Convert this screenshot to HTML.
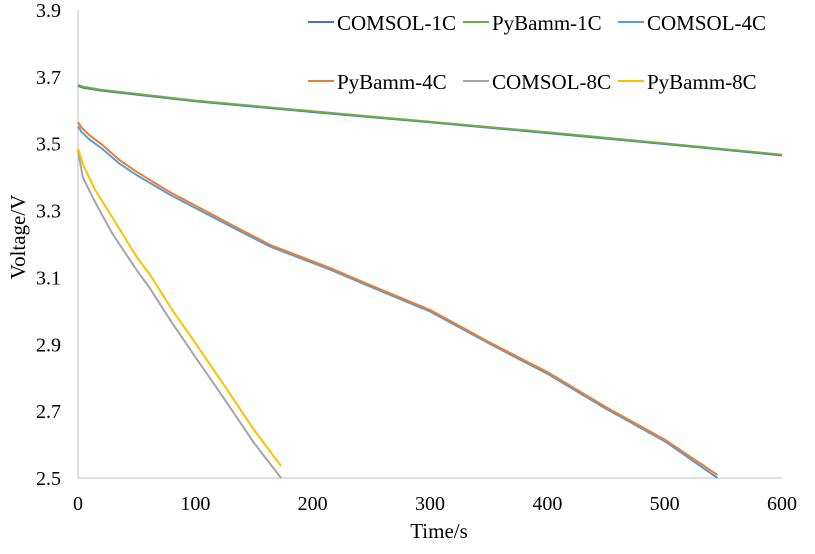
<!DOCTYPE html>
<html><head><meta charset="utf-8"><style>
body{margin:0;background:#fff;}
svg text{font-family:"Liberation Serif",serif;fill:#000;}
</style></head><body>
<svg id="chart" width="815" height="549" xmlns="http://www.w3.org/2000/svg"></svg>
<script>
const xTicks=[0,100,200,300,400,500,600];
const yTicks=[2.5,2.7,2.9,3.1,3.3,3.5,3.7,3.9];
const seriesNames=["COMSOL-1C","PyBamm-1C","COMSOL-4C","PyBamm-4C","COMSOL-8C","PyBamm-8C"];
const seriesColors=["#4472c4","#70ad47","#5b9bd5","#ed7d31","#a5a5a5","#ffc000"];
const t1=[0,5,20,50,100,200,300,400,500,600];
const c1=[3.673,3.667,3.659,3.647,3.627,3.595,3.564,3.532,3.499,3.465];
const p1=[3.676,3.670,3.661,3.649,3.629,3.597,3.566,3.534,3.501,3.467];
const t4=[0,3,10,21,35,50,78,107,136,164,215,250,300,350,400,450,500,545];
const c4=[3.552,3.535,3.512,3.484,3.441,3.406,3.348,3.295,3.242,3.192,3.123,3.071,2.998,2.903,2.812,2.707,2.610,2.500];
const p4=[3.565,3.548,3.525,3.496,3.452,3.416,3.356,3.302,3.248,3.197,3.128,3.076,3.003,2.907,2.817,2.712,2.615,2.509];
const t8=[0,4,14.5,29,50,61,80,100,125,150,173];
const c8=[3.480,3.400,3.326,3.233,3.122,3.069,2.965,2.862,2.735,2.605,2.500];
const p8=[3.487,3.440,3.362,3.281,3.161,3.110,3.004,2.904,2.775,2.644,2.536];
const series=[[t1,c1],[t1,p1],[t4,c4],[t4,p4],[t8,c8],[t8,p8]];
const L=78,R=782,T=10,B=478;
const X=v=>L+(v-0)/600*(R-L);
const Y=v=>B-(v-2.5)/1.4*(B-T);
const svg=document.getElementById('chart');
const NS="http://www.w3.org/2000/svg";
function mk(tag,attrs,parent){const e=document.createElementNS(NS,tag);for(const k in attrs)e.setAttribute(k,attrs[k]);(parent||svg).appendChild(e);return e;}
let e=mk('line',{x1:L,y1:T,x2:L,y2:B,stroke:'#bfbfbf','stroke-width':1});


e=mk('line',{x1:L,y1:B,x2:R,y2:B,stroke:'#bfbfbf','stroke-width':1});


yTicks.forEach(v=>{const t=mk('text',{x:L-17,y:Y(v)+7,'text-anchor':'end','font-size':20});t.textContent=v.toFixed(1);

});
xTicks.forEach(v=>{const t=mk('text',{x:X(v),y:B+32,'text-anchor':'middle','font-size':20});t.textContent=v;

});
e=mk('text',{x:439,y:538,'text-anchor':'middle','font-size':21});e.textContent='Time/s';


e=mk('text',{x:0,y:0,'text-anchor':'middle','font-size':21,transform:'translate(25,237) rotate(-90)'});e.textContent='Voltage/V';


series.forEach((s,i)=>{const pts=s[0].map((t,j)=>X(t).toFixed(1)+','+Y(s[1][j]).toFixed(1)).join(' ');
const p=mk('polyline',{points:pts,fill:'none',stroke:seriesColors[i],'stroke-width':2,'stroke-linejoin':'round'});

});
const lx=[308,463,618],ly=[22,81];
seriesNames.forEach((n,i)=>{const x=lx[i%3],y=ly[Math.floor(i/3)];
const g=mk('g',{});


mk('line',{x1:x,y1:y,x2:x+26,y2:y,stroke:seriesColors[i],'stroke-width':2},g);
const t=mk('text',{x:x+29,y:y+8,'font-size':21},g);t.textContent=n;});
</script>
</body></html>
